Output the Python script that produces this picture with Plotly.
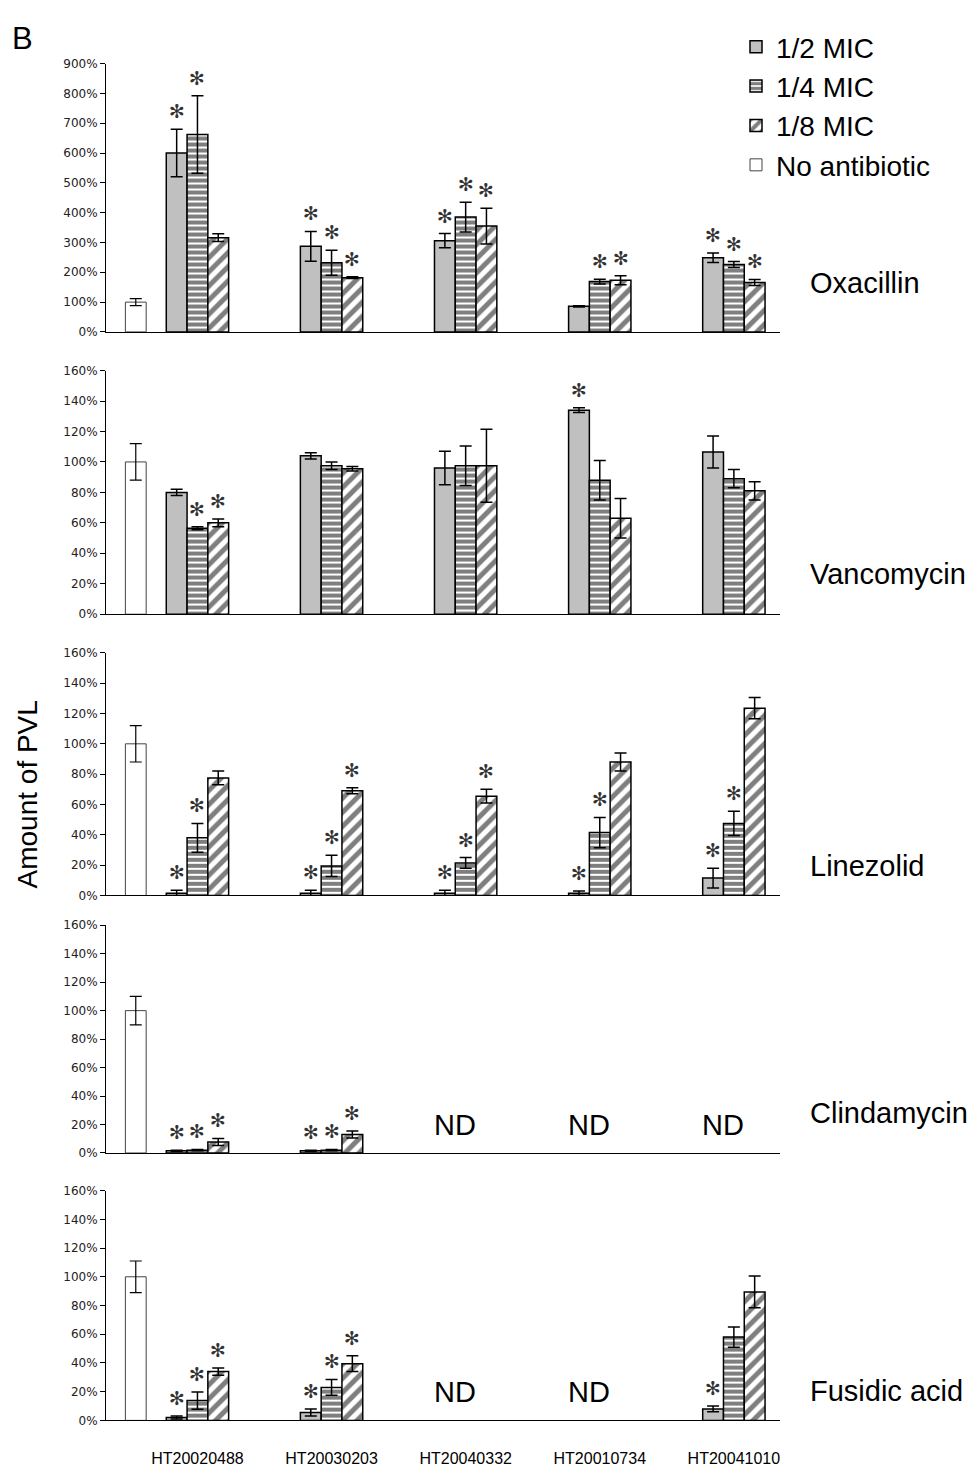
import plotly.graph_objects as go

# ---------------- data ----------------
strains = ["HT20020488", "HT20030203", "HT20040332", "HT20010734", "HT20041010"]
antibiotics = ["Oxacillin", "Vancomycin", "Linezolid", "Clindamycin", "Fusidic acid"]
series_names = ["1/2 MIC", "1/4 MIC", "1/8 MIC", "No antibiotic"]

# Oxacillin (% PVL vs. no antibiotic)
oxa_half = [600, 287, 306, 86, 249]
oxa_half_err = [80, 50, 24, 2, 16]
oxa_quarter = [662, 232, 385, 169, 226]
oxa_quarter_err = [130, 42, 50, 8, 10]
oxa_eighth = [316, 182, 355, 173, 166]
oxa_eighth_err = [13, 3, 60, 15, 10]
oxa_ctrl, oxa_ctrl_err = 100, 12
oxa_star_half = [1, 1, 1, 0, 1]
oxa_star_quarter = [1, 1, 1, 1, 1]
oxa_star_eighth = [0, 1, 1, 1, 1]

# Vancomycin
van_half = [80, 104, 96, 134, 106.5]
van_half_err = [2, 2, 11, 1.5, 10.5]
van_quarter = [56.5, 97.5, 97.5, 88, 89]
van_quarter_err = [1, 2.5, 13, 13, 6]
van_eighth = [60, 95.5, 97.5, 63, 81]
van_eighth_err = [2.5, 1.5, 24, 13, 6]
van_ctrl, van_ctrl_err = 100, 12
van_star_half = [0, 0, 0, 1, 0]
van_star_quarter = [1, 0, 0, 0, 0]
van_star_eighth = [1, 0, 0, 0, 0]

# Linezolid
lin_half = [1.5, 1.5, 1.5, 1.5, 11.5]
lin_half_err = [2, 2, 2, 1.5, 6.5]
lin_quarter = [38, 19.5, 21.5, 41.5, 47.5]
lin_quarter_err = [9.5, 7, 3.5, 10, 8]
lin_eighth = [77.5, 69, 65.5, 88, 123.5]
lin_eighth_err = [4.5, 2, 4.5, 6, 7]
lin_ctrl, lin_ctrl_err = 100, 12
lin_star_half = [1, 1, 1, 1, 1]
lin_star_quarter = [1, 1, 1, 1, 1]
lin_star_eighth = [0, 1, 1, 0, 0]

# Clindamycin (None = not determined)
cli_half = [1.5, 1.5, None, None, None]
cli_half_err = [0.5, 0.5, 0, 0, 0]
cli_quarter = [2, 2, None, None, None]
cli_quarter_err = [0.5, 0.5, 0, 0, 0]
cli_eighth = [7.7, 13, None, None, None]
cli_eighth_err = [2.5, 2.5, 0, 0, 0]
cli_ctrl, cli_ctrl_err = 100, 10
cli_star_half = [1, 1, 0, 0, 0]
cli_star_quarter = [1, 1, 0, 0, 0]
cli_star_eighth = [1, 1, 0, 0, 0]

# Fusidic acid
fus_half = [2, 5.5, None, None, 8]
fus_half_err = [1, 2.5, 0, 0, 2]
fus_quarter = [13.8, 23, None, None, 58]
fus_quarter_err = [6, 5.5, 0, 0, 7]
fus_eighth = [34, 39.5, None, None, 89.5]
fus_eighth_err = [2.5, 5.5, 0, 0, 11]
fus_ctrl, fus_ctrl_err = 100, 11
fus_star_half = [1, 1, 0, 0, 1]
fus_star_quarter = [1, 1, 0, 0, 0]
fus_star_eighth = [1, 1, 0, 0, 0]

y_max = [900, 160, 160, 160, 160]
y_dtick = [100, 20, 20, 20, 20]

# ---------------- assemble ----------------
panels = [
    dict(vals=[oxa_half, oxa_quarter, oxa_eighth], errs=[oxa_half_err, oxa_quarter_err, oxa_eighth_err],
         stars=[oxa_star_half, oxa_star_quarter, oxa_star_eighth], ctrl=oxa_ctrl, ctrl_err=oxa_ctrl_err),
    dict(vals=[van_half, van_quarter, van_eighth], errs=[van_half_err, van_quarter_err, van_eighth_err],
         stars=[van_star_half, van_star_quarter, van_star_eighth], ctrl=van_ctrl, ctrl_err=van_ctrl_err),
    dict(vals=[lin_half, lin_quarter, lin_eighth], errs=[lin_half_err, lin_quarter_err, lin_eighth_err],
         stars=[lin_star_half, lin_star_quarter, lin_star_eighth], ctrl=lin_ctrl, ctrl_err=lin_ctrl_err),
    dict(vals=[cli_half, cli_quarter, cli_eighth], errs=[cli_half_err, cli_quarter_err, cli_eighth_err],
         stars=[cli_star_half, cli_star_quarter, cli_star_eighth], ctrl=cli_ctrl, ctrl_err=cli_ctrl_err),
    dict(vals=[fus_half, fus_quarter, fus_eighth], errs=[fus_half_err, fus_quarter_err, fus_eighth_err],
         stars=[fus_star_half, fus_star_quarter, fus_star_eighth], ctrl=fus_ctrl, ctrl_err=fus_ctrl_err),
]

# the page body adds an 8px margin; layout positions below are given in
# window pixels and converted to figure fractions
OFF = 8
W, H = 978 - OFF, 1469 - OFF


def fx(px):
    return (px - OFF) / W


def fy(py):
    return 1 - (py - OFF) / H


FONT = "Liberation Sans, Arial, Helvetica, sans-serif"
STAR_FONT = "DejaVu Sans"
group_pos = [1, 2, 3, 4, 5]
control_pos = 0.54
bar_w = 0.155
offsets = [-bar_w, 0, bar_w]
x_range = [0.318, 5.344]
x_dom = [fx(106), fx(780)]
tops = [57, 367, 652, 927, 1195]
bottoms = [328, 613, 897, 1157, 1427]
label_y = [279, 572, 867, 1117, 1397]

styles = [
    dict(color="#c0c0c0", line=dict(color="black", width=1.5)),
    dict(color="white", line=dict(color="black", width=1.5),
         pattern=dict(shape="-", fgcolor="black", bgcolor="white", size=6, solidity=0.667)),
    dict(color="white", line=dict(color="black", width=1.5),
         pattern=dict(shape="/", fgcolor="black", bgcolor="white", size=10, solidity=0.5)),
]
err_style = dict(type="data", color="black", thickness=1.5, width=6, visible=True)

fig = go.Figure()
annotations = []
layout = {}

for i, p in enumerate(panels):
    n = "" if i == 0 else str(i + 1)
    xa, ya = "x" + n, "y" + n
    fig.add_trace(go.Bar(
        x=[control_pos], y=[p["ctrl"]], width=bar_w, name=series_names[3], legendrank=4,
        showlegend=(i == 0), legendgroup="ctrl",
        marker=dict(color="white", line=dict(color="#444", width=1)),
        error_y=dict(err_style, array=[p["ctrl_err"]], thickness=1.2),
        xaxis=xa, yaxis=ya))
    for k in range(3):
        xs = [g + offsets[k] for g in group_pos]
        fig.add_trace(go.Bar(
            x=xs, y=p["vals"][k], width=bar_w, name=series_names[k], legendrank=k + 1,
            showlegend=(i == 0), legendgroup=str(k), marker=styles[k],
            error_y=dict(err_style, array=p["errs"][k]),
            xaxis=xa, yaxis=ya))
        for j, s in enumerate(p["stars"][k]):
            if s and p["vals"][k][j] is not None:
                annotations.append(dict(
                    x=xs[j], y=p["vals"][k][j] + p["errs"][k][j], xref=xa, yref=ya,
                    text="\u273B", showarrow=False, xanchor="center", yanchor="middle",
                    font=dict(family=STAR_FONT, size=19, color="#333"), yshift=18))
    # ND labels
    for j in range(5):
        if p["vals"][0][j] is None:
            annotations.append(dict(
                x=group_pos[j] - 0.08, y=20, xref=xa, yref=ya, text="ND", showarrow=False,
                xanchor="center", yanchor="middle", font=dict(family=FONT, size=29, color="black")))
    # panel label
    annotations.append(dict(
        x=fx(808), y=fy(label_y[i]), xref="paper", yref="paper", text=antibiotics[i],
        showarrow=False, xanchor="left", yanchor="middle", font=dict(family=FONT, size=29, color="black")))

    layout["xaxis" + n] = dict(
        domain=x_dom, range=x_range, anchor=ya, showline=True, linecolor="black", linewidth=1,
        ticks="", showgrid=False, zeroline=False, showticklabels=(i == 4),
        tickvals=group_pos, ticktext=strains, ticklabelstandoff=23,
        tickfont=dict(family=FONT, size=16, color="black"))
    layout["yaxis" + n] = dict(
        domain=[fy(bottoms[i]), fy(tops[i])], anchor=xa, range=[0, y_max[i]],
        dtick=y_dtick[i], tick0=0, ticksuffix="%", ticks="outside", ticklen=5, tickcolor="black",
        showline=True, linecolor="black", linewidth=1, showgrid=False, zeroline=False,
        tickfont=dict(family="DejaVu Sans", size=12, color="#222"))

annotations.append(dict(
    x=fx(27), y=fy(795), xref="paper", yref="paper", text="Amount of PVL", textangle=-90,
    showarrow=False, xanchor="center", yanchor="middle", font=dict(family=FONT, size=28, color="black")))
annotations.append(dict(
    x=fx(10), y=fy(32), xref="paper", yref="paper", text="B",
    showarrow=False, xanchor="left", yanchor="middle", font=dict(family=FONT, size=31, color="black")))

fig.update_layout(
    width=W, height=H, margin=dict(l=0, r=0, t=0, b=0),
    paper_bgcolor="white", plot_bgcolor="white", barmode="overlay",
    font=dict(family=FONT, color="black"),
    legend=dict(x=fx(736), y=fy(15), xanchor="left", yanchor="top",
                font=dict(family=FONT, size=28, color="black"), bgcolor="rgba(0,0,0,0)",
                traceorder="normal", itemwidth=30, tracegroupgap=0),
    annotations=annotations,
    **layout)

fig.write_html("out.html")
